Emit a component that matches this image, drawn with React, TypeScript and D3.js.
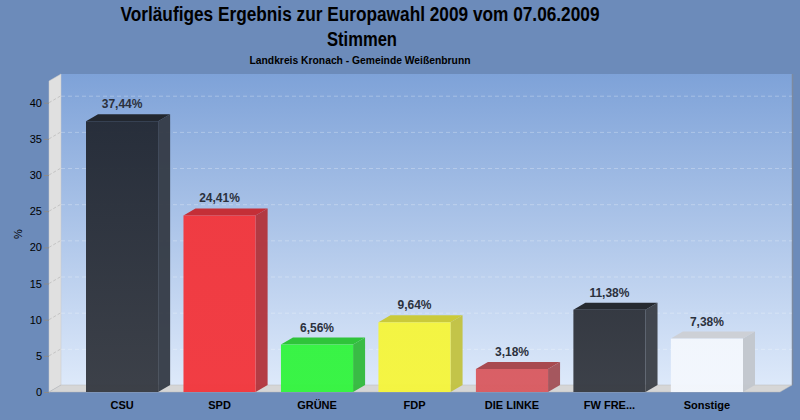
import { useEffect, useRef } from 'react'
import * as d3 from 'd3'

const PARTIES = ['CSU', 'SPD', 'GRÜNE', 'FDP', 'DIE LINKE', 'FW FRE...', 'Sonstige']
const SHARES = [37.44, 24.41, 6.56, 9.64, 3.18, 11.38, 7.38]
const Y_TICKS = [0, 5, 10, 15, 20, 25, 30, 35, 40]

// front (top / bottom) / side / top colours per party
const FRONT = ['#232934', '#f2363c', '#33f43f', '#f5f53c', '#d95a60', '#2f333b', '#f3f7fd']
const FRONT_LOW = ['#363a42', '#f2363c', '#33f43f', '#f5f53c', '#d95a60', '#363a42', '#f3f7fd']
const SIDE = ['#343a44', '#b2333a', '#30b93b', '#c2c23f', '#a24f55', '#3a3e46', '#c2c6cc']
const TOP = ['#22272f', '#c42f37', '#2fc43a', '#caca3a', '#a84a50', '#262a30', '#cdd0d6']

const W = 800
const H = 420
const DX = 12
const DY = 7
const FLOOR = 392
const LEFT = 49
const RIGHT = 780
const FONT = '"Liberation Sans", Arial, sans-serif'

export default function App() {
  const svgRef = useRef<SVGSVGElement>(null)

  useEffect(() => {
    document.body.style.margin = '0'
    const svgEl = svgRef.current
    if (!svgEl) return
    const svg = d3.select(svgEl)
    svg.selectAll('*').remove()

    const defs = svg.append('defs')
    const wall = defs.append('linearGradient').attr('id', 'wall')
      .attr('x1', 0).attr('y1', 0).attr('x2', 0).attr('y2', 1)
    wall.append('stop').attr('offset', 0).attr('stop-color', '#7ea2d8')
    wall.append('stop').attr('offset', 1).attr('stop-color', '#dde9fa')

    PARTIES.forEach((_, i) => {
      const gr = defs.append('linearGradient').attr('id', `bar${i}`)
        .attr('x1', 0).attr('y1', 0).attr('x2', 0).attr('y2', 1)
      gr.append('stop').attr('offset', 0).attr('stop-color', FRONT[i])
      gr.append('stop').attr('offset', 1).attr('stop-color', FRONT_LOW[i])
    })

    svg.append('rect').attr('width', W).attr('height', H).attr('fill', '#6c8bba')

    const x = d3.scaleBand<string>().domain(PARTIES).range([86, 743]).paddingInner(0.26).paddingOuter(0)
    const y = d3.scaleLinear().domain([0, 43]).range([FLOOR, 81])

    // back wall
    svg.append('rect')
      .attr('x', LEFT + DX).attr('y', y(43) - DY)
      .attr('width', RIGHT - LEFT).attr('height', FLOOR - y(43))
      .attr('fill', 'url(#wall)')
    svg.append('line')
      .attr('x1', RIGHT + DX + 0.5).attr('x2', RIGHT + DX + 0.5)
      .attr('y1', y(43) - DY).attr('y2', FLOOR - DY)
      .attr('stroke', '#7d8aa0').attr('stroke-width', 1.5)

    // left wall
    svg.append('polygon')
      .attr('points', [[LEFT, FLOOR], [LEFT, y(43)], [LEFT + DX, y(43) - DY], [LEFT + DX, FLOOR - DY]].join(' '))
      .attr('fill', '#e0e0e0').attr('stroke', '#c8c8c8').attr('stroke-width', 0.5)

    // floor
    svg.append('polygon')
      .attr('points', [[LEFT, FLOOR], [RIGHT, FLOOR], [RIGHT + DX, FLOOR - DY], [LEFT + DX, FLOOR - DY]].join(' '))
      .attr('fill', '#d6d6d6').attr('stroke', '#b8b8b8').attr('stroke-width', 0.5)

    // grid lines
    Y_TICKS.filter(t => t > 0).forEach(t => {
      svg.append('line')
        .attr('x1', LEFT + DX).attr('x2', RIGHT + DX)
        .attr('y1', y(t) - DY + 0.5).attr('y2', y(t) - DY + 0.5)
        .attr('stroke', '#ffffff').attr('stroke-opacity', 0.28).attr('stroke-dasharray', '4 3')
      svg.append('line')
        .attr('x1', LEFT).attr('x2', LEFT + DX)
        .attr('y1', y(t)).attr('y2', y(t) - DY)
        .attr('stroke', '#c4c4c4').attr('stroke-dasharray', '3 2')
    })

    // y axis
    const axis = svg.append('g')
    Y_TICKS.forEach(t => {
      axis.append('line')
        .attr('x1', LEFT - 5).attr('x2', LEFT).attr('y1', y(t) + 0.5).attr('y2', y(t) + 0.5)
        .attr('stroke', '#8a8a8a')
      axis.append('text')
        .attr('x', 42).attr('y', y(t) + 4)
        .attr('text-anchor', 'end')
        .attr('font-family', FONT).attr('font-size', 11).attr('fill', '#000')
        .text(t)
    })
    svg.append('text')
      .attr('transform', `translate(22,234) rotate(-90)`)
      .attr('text-anchor', 'middle')
      .attr('font-family', FONT).attr('font-size', 11).attr('fill', '#000')
      .text('%')

    // bars
    PARTIES.forEach((p, i) => {
      const x0 = x(p)!
      const x1 = x0 + x.bandwidth()
      const top = y(SHARES[i])
      const g = svg.append('g')
      g.append('polygon')
        .attr('points', [[x1, top], [x1 + DX, top - DY], [x1 + DX, FLOOR - DY], [x1, FLOOR]].join(' '))
        .attr('fill', SIDE[i]).attr('fill-opacity', 0.95)
      g.append('polygon')
        .attr('points', [[x0, top], [x0 + DX, top - DY], [x1 + DX, top - DY], [x1, top]].join(' '))
        .attr('fill', TOP[i])
      g.append('rect')
        .attr('x', x0).attr('y', top).attr('width', x1 - x0).attr('height', FLOOR - top)
        .attr('fill', `url(#bar${i})`).attr('fill-opacity', 0.96)
      g.append('text')
        .attr('x', (x0 + x1) / 2).attr('y', top - 13)
        .attr('text-anchor', 'middle')
        .attr('font-family', FONT).attr('font-size', 12).attr('font-weight', 'bold').attr('fill', '#2b313d')
        .text(SHARES[i].toFixed(2).replace('.', ',') + '%')
      svg.append('text')
        .attr('x', (x0 + x1) / 2).attr('y', 409)
        .attr('text-anchor', 'middle')
        .attr('font-family', FONT).attr('font-size', 11).attr('font-weight', 'bold').attr('fill', '#000')
        .text(p)
    })

    // titles
    svg.append('text')
      .attr('x', 360).attr('y', 21).attr('text-anchor', 'middle')
      .attr('font-family', FONT).attr('font-size', 20).attr('font-weight', 'bold').attr('fill', '#000')
      .attr('textLength', 479).attr('lengthAdjust', 'spacingAndGlyphs')
      .text('Vorläufiges Ergebnis zur Europawahl 2009 vom 07.06.2009')
    svg.append('text')
      .attr('x', 362).attr('y', 46).attr('text-anchor', 'middle')
      .attr('font-family', FONT).attr('font-size', 20).attr('font-weight', 'bold').attr('fill', '#000')
      .attr('textLength', 70).attr('lengthAdjust', 'spacingAndGlyphs')
      .text('Stimmen')
    svg.append('text')
      .attr('x', 360).attr('y', 64).attr('text-anchor', 'middle')
      .attr('font-family', FONT).attr('font-size', 11).attr('font-weight', 'bold').attr('fill', '#000')
      .attr('textLength', 221).attr('lengthAdjust', 'spacingAndGlyphs')
      .text('Landkreis Kronach - Gemeinde Weißenbrunn')
  }, [])

  return <svg ref={svgRef} width={W} height={H} style={{ display: 'block' }} />
}
